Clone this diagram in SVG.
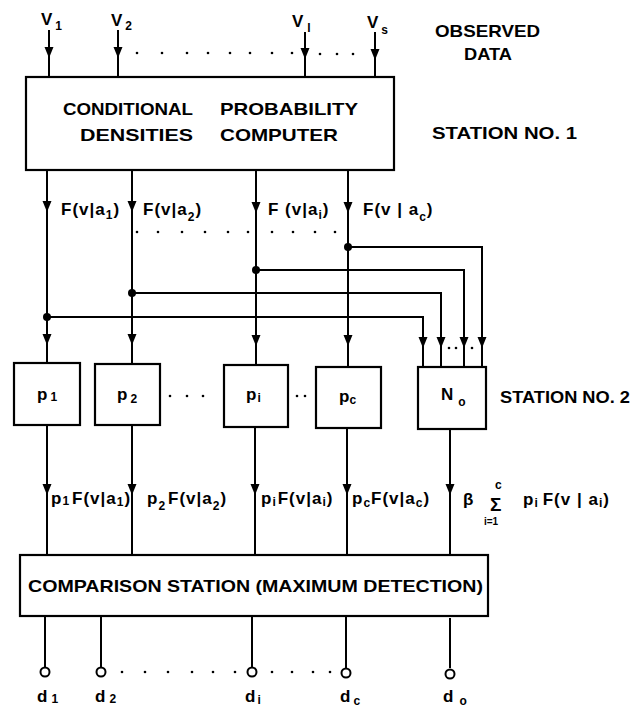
<svg xmlns="http://www.w3.org/2000/svg" width="642" height="708" viewBox="0 0 642 708">
  <style>
    .ln { stroke: #000; stroke-width: 2; fill: none; }
    .box { stroke: #000; stroke-width: 2.2; fill: #fff; }
    .t { font-family: "Liberation Sans", Arial, sans-serif; font-weight: bold; fill: #000; }
    .big { font-size: 17px; }
    .mid { font-size: 17px; }
    .lbl { font-size: 17px; letter-spacing: 1px; }
    .sm { font-size: 12px; }
  </style>
  <defs>
    <path id="ah" d="M-4.5,-11 L4.5,-11 L0,0 Z" fill="#000"/>
    <circle id="dt" r="1.3" fill="#000"/>
    <circle id="jn" r="4" fill="#000"/>
  </defs>

  <rect width="642" height="708" fill="#fff"/>

  <!-- connectors -->
  <g id="connectors">
    <!-- observed data inputs -->
    <path class="ln" d="M49,30 V77 M118,30 V77 M305,32 V77 M375,32 V79"/>
    <use href="#ah" x="49" y="58"/>
    <use href="#ah" x="118" y="58"/>
    <use href="#ah" x="305" y="59"/>
    <use href="#ah" x="375" y="60"/>
    <g>
      <use href="#dt" x="137" y="53"/><use href="#dt" x="162" y="53"/><use href="#dt" x="187" y="53"/>
      <use href="#dt" x="208" y="53"/><use href="#dt" x="230" y="53"/><use href="#dt" x="250" y="53"/>
      <use href="#dt" x="272" y="53"/><use href="#dt" x="292" y="53"/>
      <use href="#dt" x="320" y="54"/><use href="#dt" x="337" y="54"/><use href="#dt" x="353" y="54"/>
    </g>

    <!-- conditional densities to priors -->
    <path class="ln" d="M47,170 V363 M132,170 V364 M256,171 V365 M348,171 V367"/>
    <use href="#ah" x="47" y="212"/>
    <use href="#ah" x="132" y="212"/>
    <use href="#ah" x="256" y="213"/>
    <use href="#ah" x="348" y="213"/>
    <g>
      <use href="#dt" x="137" y="232"/><use href="#dt" x="158" y="232"/><use href="#dt" x="182" y="232"/>
      <use href="#dt" x="205" y="232"/><use href="#dt" x="228" y="232"/><use href="#dt" x="248" y="232"/>
      <use href="#dt" x="272" y="232"/><use href="#dt" x="293" y="232"/><use href="#dt" x="315" y="232"/>
      <use href="#dt" x="335" y="232"/>
    </g>
    <use href="#ah" x="47" y="345"/>
    <use href="#ah" x="132" y="345"/>
    <use href="#ah" x="256" y="346"/>
    <use href="#ah" x="348" y="346"/>

    <!-- branches to normalizer -->
    <path class="ln" d="M348,247 H482 V367 M256,270 H464 V367 M132,293 H441 V367 M47,317 H423 V367"/>
    <use href="#jn" x="348" y="247"/>
    <use href="#jn" x="256" y="270"/>
    <use href="#jn" x="132" y="293"/>
    <use href="#jn" x="47" y="317"/>
    <use href="#ah" x="423" y="348"/>
    <use href="#ah" x="441" y="348"/>
    <use href="#ah" x="464" y="348"/>
    <use href="#ah" x="482" y="348"/>
    <use href="#dt" x="449" y="348"/><use href="#dt" x="456" y="348"/><use href="#dt" x="472" y="348"/>

    <!-- priors to comparison station -->
    <path class="ln" d="M47,425 V555 M132,425 V555 M255,427 V556 M347,428 V556 M450,429 V557"/>
    <use href="#ah" x="47" y="495"/>
    <use href="#ah" x="132" y="495"/>
    <use href="#ah" x="255" y="495"/>
    <use href="#ah" x="347" y="495"/>
    <use href="#ah" x="450" y="495"/>
    <use href="#dt" x="170" y="396"/><use href="#dt" x="187" y="396"/><use href="#dt" x="203" y="396"/>
    <use href="#dt" x="297" y="396"/><use href="#dt" x="305" y="396"/>

    <!-- decision outputs -->
    <path class="ln" d="M45,614 V668 M101,615 V668 M252,615 V668 M346,617 V668 M450,618 V668"/>
    <g>
      <use href="#dt" x="122" y="672"/><use href="#dt" x="145" y="672"/><use href="#dt" x="168" y="672"/>
      <use href="#dt" x="192" y="672"/><use href="#dt" x="213" y="672"/><use href="#dt" x="235" y="672"/>
      <use href="#dt" x="272" y="672"/><use href="#dt" x="292" y="672"/><use href="#dt" x="313" y="672"/>
      <use href="#dt" x="330" y="672"/>
    </g>
  </g>

  <!-- input labels -->
  <g id="inputs">
    <text class="t mid" x="41" y="25">V<tspan class="sm" dx="3" dy="5">1</tspan></text>
    <text class="t mid" x="111" y="26">V<tspan class="sm" dx="3" dy="4">2</tspan></text>
    <text class="t mid" x="292" y="27">V<tspan class="sm" dx="4" dy="5">l</tspan></text>
    <text class="t mid" x="367" y="28">V<tspan class="sm" dx="3" dy="6">s</tspan></text>
    <text class="t mid" x="435" y="37" textLength="105" lengthAdjust="spacingAndGlyphs">OBSERVED</text>
    <text class="t mid" x="464" y="60" textLength="48" lengthAdjust="spacingAndGlyphs">DATA</text>
  </g>

  <!-- station 1 -->
  <g id="station1">
    <rect class="box" x="26" y="77" width="368" height="93"/>
    <text class="t big" x="63" y="115" textLength="130" lengthAdjust="spacingAndGlyphs">CONDITIONAL</text>
    <text class="t big" x="220" y="115" textLength="138" lengthAdjust="spacingAndGlyphs">PROBABILITY</text>
    <text class="t big" x="80" y="141" textLength="113" lengthAdjust="spacingAndGlyphs">DENSITIES</text>
    <text class="t big" x="220" y="141" textLength="118" lengthAdjust="spacingAndGlyphs">COMPUTER</text>
    <text class="t mid" x="432" y="139" textLength="145" lengthAdjust="spacingAndGlyphs">STATION  NO. 1</text>
  </g>

  <!-- density labels -->
  <g id="density-labels">
    <text class="t lbl" x="61" y="215">F(v|a<tspan class="sm" dy="4">1</tspan><tspan dy="-4">)</tspan></text>
    <text class="t lbl" x="143" y="215">F(v|a<tspan class="sm" dy="6">2</tspan><tspan dy="-6">)</tspan></text>
    <text class="t lbl" x="268" y="215">F (v|a<tspan class="sm" dy="4">i</tspan><tspan dy="-4">)</tspan></text>
    <text class="t lbl" x="363" y="215">F(v | a<tspan class="sm" dy="6">c</tspan><tspan dy="-6">)</tspan></text>
  </g>

  <!-- station 2 -->
  <g id="p1">
    <rect class="box" x="14" y="363" width="66" height="62"/>
    <text class="t big" x="37" y="400">p<tspan class="sm" dx="3" dy="1">1</tspan></text>
  </g>
  <g id="p2">
    <rect class="box" x="95" y="364" width="65" height="61"/>
    <text class="t big" x="117" y="400">p<tspan class="sm" dx="3" dy="3">2</tspan></text>
  </g>
  <g id="pi">
    <rect class="box" x="224" y="365" width="64" height="62"/>
    <text class="t big" x="246" y="400">p<tspan class="sm" dx="1" dy="2">i</tspan></text>
  </g>
  <g id="pc">
    <rect class="box" x="316" y="367" width="65" height="61"/>
    <text class="t big" x="339" y="402">p<tspan class="sm" dy="2">c</tspan></text>
  </g>
  <g id="n0">
    <rect class="box" x="418" y="367" width="68" height="62"/>
    <text class="t big" x="441" y="400">N<tspan class="sm" dx="5" dy="6">o</tspan></text>
    <text class="t mid" x="500" y="403" textLength="130" lengthAdjust="spacingAndGlyphs">STATION NO. 2</text>
  </g>

  <!-- weighted labels -->
  <g id="weighted-labels">
    <text class="t lbl" x="51" y="504">p<tspan class="sm" dy="1">1</tspan><tspan dx="2" dy="-1">F(v|a</tspan><tspan class="sm" dy="2">1</tspan><tspan dy="-2">)</tspan></text>
    <text class="t lbl" x="147" y="504">p<tspan class="sm" dy="6">2</tspan><tspan dx="2" dy="-6">F(v|a</tspan><tspan class="sm" dy="6">2</tspan><tspan dy="-6">)</tspan></text>
    <text class="t lbl" x="261" y="504">p<tspan class="sm" dy="2">i</tspan><tspan dx="1" dy="-2">F(v|a</tspan><tspan class="sm" dy="2">i</tspan><tspan dy="-2">)</tspan></text>
    <text class="t lbl" x="352" y="504">p<tspan class="sm" dy="3">c</tspan><tspan dy="-3">F(v|a</tspan><tspan class="sm" dy="3">c</tspan><tspan dy="-3">)</tspan></text>
    <text class="t mid" x="463" y="505">β</text>
    <text class="t sm" x="495" y="489">c</text>
    <text class="t" style="font-size:19px" x="490" y="511">Σ</text>
    <text class="t" style="font-size:10px" x="484" y="525">i=1</text>
    <text class="t lbl" x="523" y="505">p<tspan class="sm" dy="2">i</tspan><tspan dx="4" dy="-2">F(v | a</tspan><tspan class="sm" dy="2">i</tspan><tspan dy="-2">)</tspan></text>
  </g>

  <!-- comparison station -->
  <g id="comparison">
    <rect class="box" x="20" y="555" width="468" height="61"/>
    <text class="t big" x="28" y="592" textLength="455" lengthAdjust="spacingAndGlyphs">COMPARISON STATION (MAXIMUM DETECTION)</text>
  </g>

  <!-- decisions -->
  <g id="decisions">
    <circle class="ln" cx="45" cy="672" r="4.5"/>
    <circle class="ln" cx="101" cy="672" r="4.5"/>
    <circle class="ln" cx="252" cy="672" r="4.5"/>
    <circle class="ln" cx="346" cy="673" r="4.5"/>
    <circle class="ln" cx="450" cy="674" r="4.5"/>
    <text class="t mid" x="37" y="702">d<tspan class="sm" dx="4" dy="1">1</tspan></text>
    <text class="t mid" x="95" y="702">d<tspan class="sm" dx="4" dy="1">2</tspan></text>
    <text class="t mid" x="245" y="702">d<tspan class="sm" dx="2" dy="2">i</tspan></text>
    <text class="t mid" x="340" y="702">d<tspan class="sm" dx="3" dy="3">c</tspan></text>
    <text class="t mid" x="443" y="702">d<tspan class="sm" dx="6" dy="3">o</tspan></text>
  </g>
</svg>
